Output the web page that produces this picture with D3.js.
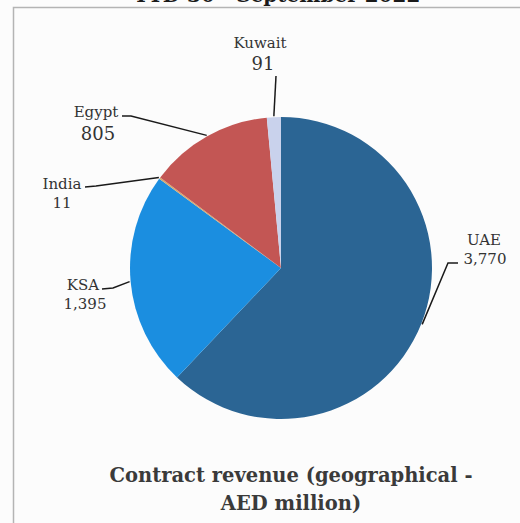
<!DOCTYPE html>
<html><head><meta charset="utf-8">
<script src="https://cdn.jsdelivr.net/npm/d3@7"></script>
<style>
html,body{margin:0;padding:0;background:#fcfcfc;}
svg{display:block;}
</style></head>
<body>
<svg id="c" width="520" height="523"></svg>
<script>
const categories = ["UAE", "KSA", "India", "Egypt", "Kuwait"];
const values = [3770, 1395, 11, 805, 91];
const valueLabels = ["3,770", "1,395", "11", "805", "91"];
const colors = ["#2b6594", "#1b8ee0", "#d8a86a", "#c35654", "#c9d2ec"];
const topTitle = ["YTD 30", "th", " September 2022"];
const bottomTitle = ["Contract revenue (geographical -", "AED million)"];

// layout: label anchor, elbow, font sizes
const labelLayout = {
  UAE:    {nameX: 484, nameY: 245, valX: 485, valY: 264, elbow: [[448,263],[458,263]], nameSize: 15, valSize: 15},
  KSA:    {nameX: 83,  nameY: 290, valX: 85,  valY: 309, elbow: [[113,288],[102,289]], nameSize: 15, valSize: 15},
  India:  {nameX: 62,  nameY: 189, valX: 62,  valY: 208, elbow: [[96,186],[85,187]], nameSize: 15, valSize: 15},
  Egypt:  {nameX: 96,  nameY: 117, valX: 98,  valY: 140, elbow: [[131,116],[122,116]], nameSize: 15, valSize: 18},
  Kuwait: {nameX: 260, nameY: 48,  valX: 263, valY: 70,  elbow: [[276,76]], nameSize: 15, valSize: 18}
};

const svg = d3.select("#c");
const cx = 281, cy = 268, r = 151;
const font = "'DejaVu Serif', serif";

// frame
svg.append("path").attr("d", "M13.5,523 L13.5,7.5 L520,7.5")
  .attr("fill", "none").attr("stroke", "#b4b4b4").attr("stroke-width", 1.5);

// top title (clipped at top edge as in the reference)
const tt = svg.append("text").attr("x", 277).attr("y", 2)
  .attr("text-anchor", "middle")
  .attr("font-family", font).attr("font-weight", "bold")
  .attr("font-size", 20).attr("fill", "#1a1a1a");
tt.append("tspan").text(topTitle[0]);
tt.append("tspan").attr("dy", -8).attr("font-size", 12).text(topTitle[1]);
tt.append("tspan").attr("dy", 8).text(topTitle[2]);

const data = categories.map((c, i) => ({cat: c, value: values[i], label: valueLabels[i], color: colors[i]}));

const pie = d3.pie().value(d => d.value).sort(null);
const arc = d3.arc().innerRadius(0).outerRadius(r);
const arcs = pie(data);

const g = svg.append("g").attr("transform", `translate(${cx},${cy})`);
g.selectAll("path").data(arcs).enter().append("path")
  .attr("d", arc).attr("fill", d => d.data.color);

// leader lines and labels
arcs.forEach(a => {
  const lay = labelLayout[a.data.cat];
  const mid = (a.startAngle + a.endAngle) / 2;
  const ex = cx + Math.sin(mid) * (r + 1), ey = cy - Math.cos(mid) * (r + 1);
  const pts = [[ex, ey]].concat(lay.elbow);
  svg.append("path").attr("d", d3.line()(pts))
    .attr("fill", "none").attr("stroke", "#1a1a1a").attr("stroke-width", 1.5);
  svg.append("text").attr("x", lay.nameX).attr("y", lay.nameY)
    .attr("text-anchor", "middle").attr("font-family", font)
    .attr("font-size", lay.nameSize).attr("fill", "#333").text(a.data.cat);
  svg.append("text").attr("x", lay.valX).attr("y", lay.valY)
    .attr("text-anchor", "middle").attr("font-family", font)
    .attr("font-size", lay.valSize).attr("fill", "#333").text(a.data.label);
});

// bottom title
bottomTitle.forEach((t, i) => {
  svg.append("text").attr("x", 291).attr("y", 482 + i * 28)
    .attr("text-anchor", "middle")
    .attr("font-family", font).attr("font-weight", "bold")
    .attr("font-size", 19.5).attr("fill", "#3a3a3a").text(t);
});
</script>
</body></html>
